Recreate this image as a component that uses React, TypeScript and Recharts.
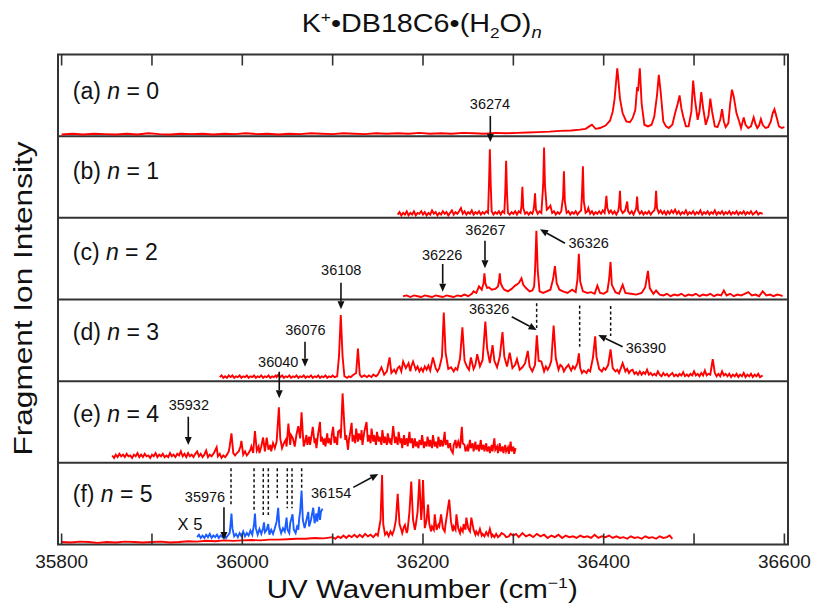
import { LineChart, Line, XAxis, YAxis, ReferenceLine, ReferenceArea, ReferenceDot } from "recharts";

// x range of the frame (slight padding around 35800..36600)
const X_MIN = 35796;
const X_MAX = 36604;
const xTicks = [35800, 35900, 36000, 36100, 36200, 36300, 36400, 36500, 36600];
const labeledTicks = [35800, 36000, 36200, 36400, 36600];

// panels: letter, n, vertical offset (each panel is 100 units tall), label height
const panelLetters = ["a", "b", "c", "d", "e", "f"];
const panelN = ["0", "1", "2", "3", "4", "5"];
const panelOffsets = [500, 400, 300, 200, 100, 0];
const panelLabelY = [545, 447.5, 348.4, 250.4, 150.3, 52.4];

// spectra: [wavenumber, intensity in % of panel height]
const specA = [
  [35800, 2], [35812, 3], [35824, 2], [35836, 3], [35848, 2.5], [35860, 2], [35872, 3], [35884, 2],
  [35896, 3.5], [35908, 2.5], [35920, 2], [35932, 3], [35944, 2.5], [35956, 3], [35968, 2], [35980, 3],
  [35992, 2.5], [36004, 3.5], [36016, 2.5], [36028, 3], [36040, 2], [36052, 3], [36064, 2.5], [36076, 3.5],
  [36088, 3], [36100, 2.5], [36112, 3.5], [36124, 3], [36136, 2.5], [36148, 3.5], [36160, 3], [36172, 3.5],
  [36184, 3], [36196, 4], [36208, 3], [36220, 3.5], [36232, 3], [36244, 4], [36256, 3.5], [36268, 3],
  [36280, 4], [36292, 3.5], [36304, 4], [36316, 4.5], [36328, 5], [36340, 5.5], [36352, 6.5], [36364, 7],
  [36374, 8], [36380, 9], [36384, 12], [36387, 14], [36391, 9], [36396, 10], [36402, 13], [36407, 19],
  [36410, 30], [36412, 45], [36414, 70], [36415, 83], [36416, 72], [36418, 46], [36421, 28], [36425, 18],
  [36429, 17], [36432, 22], [36435, 32], [36437, 60], [36438, 55], [36440, 83], [36442, 40], [36445, 14],
  [36449, 12], [36453, 14], [36456, 24], [36459, 50], [36461, 75], [36463, 55], [36466, 18], [36469, 12],
  [36472, 10], [36476, 14], [36479, 28], [36482, 40], [36484, 50], [36486, 34], [36488, 24], [36491, 12],
  [36494, 12], [36497, 30], [36499, 68], [36501, 45], [36504, 20], [36506, 30], [36508, 54], [36510, 35],
  [36513, 14], [36516, 25], [36518, 46], [36520, 30], [36523, 12], [36526, 11], [36529, 20], [36531, 33],
  [36533, 18], [36535, 11], [36538, 16], [36540, 40], [36542, 57], [36544, 48], [36547, 28], [36550, 18],
  [36552, 10], [36555, 23], [36557, 14], [36560, 10], [36563, 12], [36566, 23], [36568, 15], [36570, 10],
  [36572, 13], [36574, 21], [36576, 14], [36579, 10], [36582, 11], [36585, 18], [36587, 28], [36589, 33],
  [36591, 25], [36594, 12], [36597, 10], [36600, 11],
];

const specB = [
  [36172, 4], [36174, 7], [36176, 3], [36178, 6], [36180, 4], [36182, 8], [36184, 3], [36186, 6],
  [36188, 4], [36190, 8], [36192, 3], [36194, 6], [36196, 5], [36198, 8], [36200, 4], [36202, 7],
  [36204, 3], [36206, 6], [36208, 4], [36210, 9], [36212, 5], [36214, 7], [36216, 3], [36218, 6],
  [36220, 4], [36222, 8], [36224, 5], [36226, 7], [36228, 3], [36230, 6], [36232, 9], [36234, 4],
  [36236, 7], [36238, 5], [36240, 8], [36242, 12], [36244, 5], [36246, 8], [36248, 4], [36250, 7],
  [36252, 5], [36254, 9], [36256, 4], [36258, 7], [36260, 5], [36262, 8], [36264, 4], [36266, 7],
  [36268, 5], [36270, 8], [36272, 6], [36273, 40], [36274, 84], [36275, 40], [36276, 8], [36278, 4],
  [36280, 7], [36282, 5], [36284, 8], [36286, 4], [36288, 8], [36290, 6], [36291, 30], [36292, 70],
  [36293, 30], [36294, 6], [36296, 4], [36298, 7], [36300, 5], [36302, 8], [36304, 4], [36306, 8],
  [36308, 6], [36309, 15], [36310, 38], [36311, 12], [36313, 5], [36315, 7], [36317, 4], [36319, 7],
  [36321, 5], [36322, 8], [36323, 15], [36324, 30], [36325, 10], [36327, 5], [36329, 8], [36331, 6],
  [36333, 40], [36334, 86], [36335, 40], [36337, 10], [36339, 12], [36341, 15], [36343, 6], [36345, 8],
  [36347, 4], [36349, 7], [36351, 5], [36353, 8], [36355, 25], [36356, 57], [36357, 20], [36359, 6],
  [36361, 8], [36363, 4], [36365, 7], [36367, 5], [36369, 8], [36371, 4], [36373, 7], [36375, 9],
  [36376, 30], [36377, 63], [36378, 20], [36380, 6], [36382, 8], [36383, 12], [36385, 5], [36387, 8],
  [36389, 4], [36391, 7], [36393, 5], [36395, 8], [36397, 5], [36399, 9], [36401, 6], [36402, 15],
  [36403, 27], [36404, 12], [36406, 6], [36408, 9], [36410, 5], [36412, 8], [36414, 4], [36416, 8],
  [36417, 15], [36418, 33], [36419, 10], [36421, 6], [36423, 8], [36424, 10], [36426, 20], [36427, 8],
  [36429, 5], [36431, 8], [36433, 4], [36435, 9], [36436, 12], [36437, 26], [36438, 9], [36440, 5],
  [36442, 8], [36444, 4], [36446, 7], [36448, 5], [36450, 8], [36452, 4], [36454, 7], [36456, 9],
  [36457, 14], [36458, 33], [36459, 12], [36461, 6], [36463, 9], [36465, 5], [36467, 8], [36469, 4],
  [36471, 8], [36473, 5], [36475, 9], [36477, 6], [36479, 10], [36481, 5], [36483, 8], [36485, 4],
  [36487, 7], [36489, 5], [36491, 9], [36493, 4], [36495, 7], [36497, 5], [36499, 8], [36501, 4],
  [36503, 7], [36505, 5], [36507, 9], [36509, 4], [36511, 7], [36513, 5], [36515, 8], [36517, 4],
  [36519, 7], [36521, 5], [36523, 9], [36525, 4], [36527, 7], [36529, 5], [36531, 8], [36533, 4],
  [36535, 7], [36537, 5], [36539, 8], [36541, 4], [36543, 7], [36545, 5], [36547, 8], [36549, 4],
  [36551, 7], [36553, 5], [36555, 8], [36557, 4], [36559, 7], [36561, 5], [36563, 8], [36565, 4],
  [36567, 6], [36569, 8], [36571, 4], [36573, 6], [36576, 5],
];

const specC = [
  [36178, 4], [36182, 5], [36186, 3], [36190, 5], [36194, 4], [36198, 3], [36202, 5], [36206, 4],
  [36210, 3], [36214, 5], [36218, 4], [36222, 3], [36226, 5], [36230, 4], [36234, 3], [36238, 5],
  [36242, 4], [36246, 6], [36250, 4], [36254, 7], [36256, 10], [36259, 8], [36262, 16], [36265, 12],
  [36267, 20], [36268, 32], [36269, 20], [36271, 14], [36273, 15], [36276, 12], [36280, 13], [36283, 16],
  [36284, 22], [36285, 32], [36286, 20], [36288, 15], [36290, 12], [36294, 10], [36298, 13], [36302, 17],
  [36306, 20], [36309, 26], [36311, 18], [36314, 14], [36318, 10], [36321, 11], [36323, 16], [36324, 35],
  [36325.5, 84], [36327, 35], [36329, 10], [36333, 8], [36337, 10], [36341, 12], [36344, 25], [36346, 41],
  [36348, 20], [36351, 12], [36355, 10], [36360, 8], [36365, 12], [36369, 9], [36371, 25], [36372.5, 56],
  [36374, 22], [36377, 10], [36382, 8], [36386, 9], [36390, 7], [36393, 17], [36396, 8], [36400, 7],
  [36404, 10], [36406, 25], [36407.6, 46], [36409, 18], [36413, 9], [36417, 7], [36421, 18], [36424, 8],
  [36430, 7], [36436, 6], [36442, 8], [36446, 15], [36449, 35], [36451, 14], [36455, 7], [36458, 11],
  [36462, 6], [36466, 5], [36470, 7], [36474, 4], [36478, 6], [36482, 5], [36486, 7], [36490, 4],
  [36494, 6], [36498, 5], [36502, 7], [36506, 4], [36510, 6], [36514, 5], [36518, 7], [36522, 4],
  [36526, 6], [36530, 5], [36533, 11], [36536, 5], [36540, 7], [36544, 4], [36548, 6], [36552, 5],
  [36556, 7], [36560, 9], [36564, 5], [36568, 6], [36572, 4], [36576, 10], [36580, 5], [36584, 6],
  [36588, 4], [36592, 6], [36596, 5], [36598, 4],
];

const specD = [
  [35975, 5], [35977, 7], [35979, 4], [35981, 6], [35983, 4], [35985, 7], [35987, 5], [35989, 7],
  [35991, 4], [35993, 6], [35995, 5], [35997, 7], [35999, 4], [36001, 6], [36003, 5], [36005, 7],
  [36007, 4], [36009, 6], [36011, 5], [36013, 7], [36015, 4], [36017, 6], [36019, 5], [36021, 7],
  [36023, 4], [36025, 6], [36027, 5], [36029, 7], [36031, 4], [36033, 6], [36035, 5], [36037, 7],
  [36038, 5], [36040, 8], [36042, 5], [36044, 7], [36046, 4], [36048, 6], [36050, 5], [36052, 7],
  [36054, 4], [36056, 6], [36058, 5], [36060, 7], [36062, 4], [36064, 6], [36066, 5], [36068, 7],
  [36070, 4], [36072, 6], [36074, 5], [36076, 7], [36078, 4], [36080, 6], [36082, 5], [36084, 7],
  [36086, 4], [36088, 6], [36090, 5], [36092, 7], [36094, 4], [36096, 6], [36098, 5], [36100, 7],
  [36102, 5], [36105, 6], [36107, 30], [36109, 81], [36111, 30], [36113, 6], [36116, 4], [36118, 6],
  [36120, 5], [36122, 7], [36126, 10], [36128, 40], [36130, 8], [36132, 5], [36135, 7], [36138, 5],
  [36140, 7], [36143, 5], [36145, 8], [36148, 6], [36150, 8], [36154, 17], [36157, 8], [36160, 12],
  [36163, 29], [36165, 10], [36168, 14], [36170, 10], [36172, 16], [36174, 18], [36176, 12], [36178, 24],
  [36181, 16], [36184, 22], [36186, 12], [36187, 18], [36189, 24], [36192, 14], [36194, 18], [36196, 12],
  [36198, 16], [36200, 12], [36202, 18], [36204, 14], [36206, 19], [36208, 13], [36211, 29], [36214, 16],
  [36216, 12], [36218, 16], [36221, 30], [36223, 84], [36225, 35], [36228, 15], [36231, 17], [36234, 12],
  [36236, 16], [36238, 14], [36241, 28], [36243.6, 66], [36246, 25], [36249, 17], [36251, 14], [36253, 29],
  [36256, 15], [36258, 20], [36260, 33], [36263, 18], [36266, 26], [36269, 73], [36271, 40], [36274, 22],
  [36277, 44], [36279, 25], [36282, 17], [36285, 30], [36288, 60], [36290, 30], [36293, 18], [36296, 35],
  [36299, 16], [36302, 20], [36304, 27], [36307, 14], [36310, 17], [36313, 22], [36316, 37], [36318, 18],
  [36321, 12], [36324, 20], [36326, 56], [36328, 25], [36331, 24], [36334, 12], [36336, 18], [36338, 14],
  [36340, 18], [36342, 25], [36344.6, 68], [36347, 28], [36350, 14], [36352, 20], [36354, 18], [36356, 12],
  [36358, 16], [36361, 20], [36364, 13], [36366, 18], [36368, 15], [36371, 22], [36372.5, 34], [36374, 16],
  [36376, 10], [36378, 13], [36381, 10], [36383, 14], [36385, 12], [36388, 28], [36390.6, 55], [36392, 30],
  [36395, 15], [36398, 12], [36400, 16], [36402, 14], [36405, 20], [36407.6, 39], [36410, 16], [36413, 12],
  [36415, 14], [36417, 10], [36421, 22], [36424, 12], [36426, 15], [36428, 10], [36430, 13], [36432, 14],
  [36434, 9], [36436, 11], [36438, 8], [36440, 12], [36442, 8], [36444, 11], [36446, 9], [36448, 14],
  [36450, 8], [36452, 10], [36454, 7], [36456, 9], [36458, 7], [36460, 12], [36462, 8], [36464, 6],
  [36466, 10], [36468, 7], [36470, 9], [36472, 6], [36474, 8], [36476, 10], [36478, 6], [36480, 8],
  [36482, 6], [36484, 9], [36486, 7], [36488, 11], [36490, 6], [36492, 8], [36494, 6], [36496, 9],
  [36498, 7], [36500, 12], [36502, 7], [36504, 9], [36506, 6], [36508, 10], [36510, 7], [36512, 13],
  [36514, 7], [36516, 9], [36518, 8], [36520.7, 27], [36523, 10], [36525, 6], [36527, 9], [36529, 6],
  [36531, 12], [36533, 7], [36535, 9], [36537, 6], [36539, 9], [36541, 5], [36543, 8], [36545, 6],
  [36547, 9], [36549, 5], [36551, 8], [36553, 6], [36555, 10], [36557, 5], [36559, 8], [36561, 6],
  [36563, 9], [36565, 5], [36567, 8], [36569, 6], [36571, 9], [36573, 5], [36576, 7],
];

const specE = [
  [35856, 9], [35858, 6], [35860, 10], [35862, 7], [35864, 11], [35866, 8], [35868, 10], [35870, 7],
  [35872, 11], [35874, 8], [35876, 9], [35878, 6], [35880, 10], [35882, 8], [35884, 12], [35886, 7],
  [35888, 10], [35890, 7], [35892, 11], [35894, 8], [35896, 9], [35898, 6], [35900, 10], [35902, 8],
  [35904, 12], [35906, 7], [35908, 10], [35910, 8], [35912, 11], [35914, 7], [35916, 9], [35918, 7],
  [35920, 12], [35922, 8], [35924, 10], [35926, 7], [35928, 11], [35930, 9], [35932, 14], [35934, 8],
  [35936, 11], [35938, 7], [35940, 12], [35942, 8], [35944, 10], [35946, 7], [35948, 11], [35950, 14],
  [35952, 8], [35954, 11], [35956, 7], [35958, 10], [35960, 15], [35962, 7], [35964, 10], [35966, 8],
  [35968, 11], [35969, 13], [35971.6, 19], [35973, 8], [35975, 11], [35977, 6], [35979, 9], [35981, 7],
  [35983, 10], [35985, 14], [35986, 20], [35988, 36], [35990, 12], [35992, 9], [35994, 12], [35996, 14],
  [35998, 20], [35999, 27], [36001, 10], [36003, 14], [36005, 9], [36007, 12], [36009, 16], [36010, 20],
  [36012, 12], [36014, 39], [36016, 15], [36018, 20], [36019, 12], [36021, 20], [36023, 31], [36025, 14],
  [36027, 31], [36029, 16], [36031, 22], [36032, 14], [36034, 24], [36036, 18], [36038, 26], [36040.5, 68],
  [36042, 30], [36044, 18], [36046, 24], [36048, 28], [36049, 20], [36051, 48], [36053, 22], [36054, 34],
  [36056, 30], [36058, 20], [36060, 35], [36062, 45], [36064, 30], [36065.6, 62], [36067, 35], [36068, 20],
  [36069, 24], [36071, 34], [36072, 22], [36074, 32], [36075, 22], [36077, 36], [36078, 44], [36080, 24],
  [36081, 30], [36082, 18], [36084, 36], [36086, 50], [36087, 26], [36088, 32], [36090, 22], [36091, 30],
  [36092, 20], [36094, 36], [36095, 24], [36096, 30], [36098, 22], [36099, 34], [36100.5, 44], [36102, 24],
  [36103, 32], [36105, 22], [36106, 38], [36108, 40], [36109, 30], [36111, 85], [36113, 45], [36114, 28],
  [36115, 34], [36117, 16], [36118, 28], [36119, 34], [36121, 49], [36122, 26], [36123, 34], [36125, 24],
  [36126, 42], [36128, 26], [36129, 36], [36131, 28], [36132, 40], [36133, 22], [36135, 38], [36137.5, 50],
  [36139, 26], [36140, 34], [36142, 24], [36143, 42], [36145, 26], [36146, 34], [36148, 22], [36149, 38],
  [36151, 26], [36152, 32], [36154, 22], [36155, 40], [36157, 24], [36158, 32], [36160, 22], [36161, 36],
  [36163, 24], [36164, 30], [36165, 22], [36167, 45], [36169, 24], [36170, 32], [36172, 22], [36173, 38],
  [36175, 24], [36176, 30], [36177, 18], [36179, 34], [36180, 22], [36182, 30], [36183, 20], [36185, 38],
  [36186, 24], [36188, 30], [36189, 18], [36191, 30], [36192, 20], [36193, 26], [36195, 18], [36196, 28],
  [36198, 22], [36199, 34], [36201, 18], [36202, 26], [36204, 20], [36205, 32], [36207, 20], [36208, 28],
  [36210, 18], [36211, 34], [36213, 20], [36214, 26], [36216, 18], [36217, 32], [36219, 20], [36220, 28],
  [36222, 20], [36224, 38], [36225, 22], [36227, 28], [36228, 18], [36230, 24], [36231, 16], [36233, 12],
  [36234, 22], [36236, 28], [36237, 18], [36239, 26], [36241, 18], [36243, 44], [36244, 24], [36246, 22],
  [36247, 14], [36249, 20], [36250, 14], [36252, 28], [36253, 18], [36255, 24], [36256, 14], [36258, 26],
  [36259, 16], [36261, 22], [36262, 14], [36264, 28], [36265, 16], [36267, 22], [36268, 14], [36270, 24],
  [36271, 14], [36273, 20], [36274, 12], [36276, 22], [36277, 14], [36279, 30], [36280, 16], [36282, 20],
  [36283, 12], [36285, 24], [36286, 14], [36288, 20], [36289, 12], [36291, 22], [36292, 14], [36294, 19],
  [36295, 11], [36297, 26], [36298, 14], [36300, 20], [36301, 11], [36302.5, 18],
];

const specF = [
  [35800, 3], [35810, 2.5], [35820, 3.5], [35830, 3], [35840, 2], [35850, 3], [35860, 2.5], [35870, 3.5],
  [35880, 3], [35890, 2.5], [35900, 3], [35910, 3.5], [35920, 2.5], [35930, 3], [35940, 4], [35950, 3.5],
  [35960, 4.5], [35970, 4], [35980, 5], [35990, 4.5], [36000, 5], [36010, 5.5], [36020, 5], [36030, 6],
  [36040, 6], [36050, 6.5], [36060, 7], [36070, 7], [36080, 8], [36090, 7.5], [36100, 9], [36103, 7],
  [36106, 10], [36109, 8], [36112, 11], [36115, 8], [36118, 11], [36121, 9], [36124, 12], [36127, 9],
  [36130, 12], [36133, 9], [36136, 13], [36139, 10], [36142, 12], [36145, 9], [36148, 13], [36150, 11],
  [36153, 30], [36154.7, 85], [36156, 25], [36158, 12], [36160, 15], [36162, 10], [36164, 16], [36166, 12],
  [36168, 18], [36170, 30], [36172, 62], [36174, 25], [36176, 18], [36177, 14], [36179, 22], [36180, 24],
  [36182, 14], [36183, 18], [36185, 40], [36187, 77], [36189, 30], [36191, 18], [36192, 24], [36194, 40],
  [36196, 80], [36198, 30], [36199, 45], [36200, 79], [36202, 20], [36204, 30], [36205.6, 49], [36207, 25],
  [36209, 16], [36210, 22], [36212, 18], [36213, 37], [36215, 18], [36217, 24], [36218, 22], [36220, 37],
  [36222, 20], [36224, 16], [36225, 25], [36227, 40], [36229, 55], [36231, 28], [36233, 16], [36234, 22],
  [36236, 18], [36237, 37], [36239, 20], [36241, 14], [36242, 20], [36244, 16], [36245, 25], [36247, 18],
  [36248, 33], [36250, 20], [36252, 16], [36253.5, 33], [36256, 18], [36258, 12], [36259, 16], [36261, 12],
  [36263, 19], [36265, 11], [36266, 13], [36268, 10], [36270, 15], [36272, 11], [36274, 19], [36276, 10],
  [36277, 12], [36279, 9], [36281, 13], [36283, 9], [36285, 11], [36287, 14], [36290, 12], [36292, 9],
  [36295, 10], [36297, 13], [36300, 11], [36303, 13], [36306, 9], [36310, 14], [36314, 10], [36318, 12],
  [36322, 9], [36326, 13], [36330, 10], [36334, 12], [36338, 8], [36342, 11], [36346, 9], [36350, 12],
  [36354, 8], [36358, 11], [36362, 9], [36366, 10], [36370, 8], [36374, 11], [36378, 9], [36382, 10],
  [36386, 8], [36390, 12], [36394, 8], [36398, 10], [36402, 9], [36406, 11], [36410, 8], [36414, 10],
  [36418, 8], [36422, 9], [36426, 7], [36430, 10], [36434, 8], [36438, 9], [36442, 7], [36446, 10],
  [36450, 8], [36454, 9], [36458, 7], [36462, 10], [36466, 8], [36470, 9], [36473, 11], [36476, 7],
];

// n = 5 low-frequency region, magnified x5
const specFx5 = [
  [35950, 9], [35952, 12], [35954, 8], [35956, 11], [35958, 8], [35960, 12], [35962, 9], [35964, 13],
  [35966, 8], [35968, 11], [35970, 9], [35972, 12], [35974, 8], [35976, 11], [35978, 9], [35980, 12],
  [35982, 8], [35984, 11], [35986, 14], [35987, 25], [35988, 38], [35989, 20], [35991, 10], [35993, 13],
  [35995, 9], [35997, 14], [35999, 10], [36001, 16], [36003, 10], [36005, 14], [36007, 11], [36009, 17],
  [36011, 12], [36013, 25], [36014, 38], [36015, 20], [36017, 12], [36019, 19], [36021, 13], [36023, 20],
  [36024, 27], [36025, 15], [36027, 18], [36028.7, 25], [36030, 12], [36032, 18], [36034, 13], [36036, 20],
  [36038, 28], [36039.7, 45], [36041, 22], [36043, 14], [36045, 20], [36047, 16], [36049, 33], [36050, 18],
  [36052, 14], [36053, 26], [36055.6, 37], [36057, 18], [36059, 14], [36061, 24], [36062, 18], [36063, 32],
  [36064, 40], [36065.6, 66], [36067, 30], [36069, 20], [36071, 30], [36073, 40], [36074, 22], [36076, 30],
  [36078.5, 45], [36080, 26], [36082, 38], [36083, 28], [36085, 46], [36086, 30], [36087, 40], [36088.8, 44],
];

// annotations (wavenumber, chart y units)
const peakLabels = [
  { text: "36274", x: 36274.2, y: 533 },
  { text: "36326", x: 36383.4, y: 362.7 },
  { text: "36267", x: 36269.2, y: 379 },
  { text: "36226", x: 36221.2, y: 348.4 },
  { text: "36108", x: 36109.5, y: 330 },
  { text: "36076", x: 36069.9, y: 256.5 },
  { text: "36040", x: 36039.8, y: 217.7 },
  { text: "36326", x: 36273.3, y: 282.2 },
  { text: "36390", x: 36446.6, y: 234.1 },
  { text: "35932", x: 35940.8, y: 164.7 },
  { text: "35976", x: 35958.7, y: 52.4 },
  { text: "36154", x: 36098.4, y: 56.6 },
];

const arrows = [
  [36274.5, 524.8, 36274.5, 492.9],
  [36357.2, 368.8, 36329.5, 386.0],
  [36268.6, 372.0, 36268.6, 338.2],
  [36221.8, 343.5, 36221.8, 309.6],
  [36109.2, 320.6, 36109.2, 288.0],
  [36069.4, 248.3, 36069.4, 217.7],
  [36040.9, 211.6, 36040.9, 179.0],
  [36298.2, 278.9, 36325.8, 262.7],
  [36421.0, 242.2, 36394.0, 256.5],
  [35940.2, 156.5, 35940.2, 121.8],
  [35979.7, 45.6, 35979.7, 5.5],
  [36122.9, 70.0, 36150.5, 86.3],
];

const dashMarks = [
  [36325.8, 295.3, 265.1],
  [36373.4, 292.6, 242.2],
  [36407.7, 292.0, 255.3],
  [35987.5, 93.3, 46.3],
  [36013, 93.3, 42.2],
  [36023.2, 93.3, 36.1],
  [36028.8, 93.3, 36.1],
  [36038.7, 93.3, 56.6],
  [36049.8, 93.3, 44.3],
  [36055, 93.3, 44.3],
  [36065.7, 93.3, 68.8],
];

const FONT = "'Liberation Sans', Arial, sans-serif";
const INK = "#111";
const RED = "#ff0000";
const BLUE = "#1a5cff";

const series = [
  { data: specA, panel: 0, color: RED },
  { data: specB, panel: 1, color: RED },
  { data: specC, panel: 2, color: RED },
  { data: specD, panel: 3, color: RED },
  { data: specE, panel: 4, color: RED },
  { data: specF, panel: 5, color: RED },
  { data: specFx5, panel: 5, color: BLUE },
].map((s) => ({
  ...s,
  rows: s.data.map(([x, y]) => ({ x, y: y + panelOffsets[s.panel] })),
}));

function Arrow(p: any) {
  const { x1, y1, x2, y2 } = p;
  const dx = x2 - x1;
  const dy = y2 - y1;
  const len = Math.hypot(dx, dy) || 1;
  const ux = dx / len;
  const uy = dy / len;
  const hl = 8;
  const hw = 3.5;
  const bx = x2 - ux * hl;
  const by = y2 - uy * hl;
  return (
    <g>
      <line x1={x1} y1={y1} x2={bx} y2={by} stroke={INK} strokeWidth={1.6} />
      <polygon
        points={`${x2},${y2} ${bx - uy * hw},${by + ux * hw} ${bx + uy * hw},${by - ux * hw}`}
        fill={INK}
      />
    </g>
  );
}

const tickLineStyle = { stroke: "#333", strokeWidth: 1.6 };

export default function App() {
  return (
    <div style={{ position: "absolute", left: 0, top: 0, width: 814, height: 608, background: "#fff", fontFamily: FONT }}>
      <LineChart width={814} height={608} margin={{ top: 24.5, right: 26, bottom: 0, left: 58 }}>
        <XAxis
          type="number"
          dataKey="x"
          domain={[X_MIN, X_MAX]}
          allowDataOverflow
          ticks={xTicks}
          interval={0}
          tickFormatter={(v: number) => (labeledTicks.includes(v) ? String(v) : "")}
          tickSize={-11}
          tickMargin={21}
          height={63.5}
          axisLine={false}
          tickLine={tickLineStyle}
          tick={{ fontSize: 19, fill: "#1a1a1a", fontFamily: FONT }}
        />
        <XAxis
          xAxisId="top"
          orientation="top"
          type="number"
          dataKey="x"
          domain={[X_MIN, X_MAX]}
          allowDataOverflow
          ticks={xTicks}
          interval={0}
          tickFormatter={() => ""}
          tickSize={-11}
          height={30}
          axisLine={false}
          tickLine={tickLineStyle}
        />
        <YAxis type="number" domain={[0, 600]} allowDataOverflow hide width={0} />

        <ReferenceArea x1={X_MIN} x2={X_MAX} y1={0} y2={600} fill="none" stroke="#333" strokeWidth={2} ifOverflow="visible" />
        {panelOffsets.filter((o) => o > 0).map((o) => (
          <ReferenceLine key={`sep${o}`} y={o} stroke="#333" strokeWidth={2} />
        ))}

        {series.map((s, i) => (
          <Line
            key={`s${i}`}
            data={s.rows}
            dataKey="y"
            type="linear"
            stroke={s.color}
            strokeWidth={1.9}
            dot={false}
            activeDot={false}
            isAnimationActive={false}
          />
        ))}

        {dashMarks.map(([x, y1, y2], i) => (
          <ReferenceLine
            key={`d${i}`}
            segment={[{ x, y: y1 }, { x, y: y2 }]}
            stroke={INK}
            strokeWidth={1.5}
            strokeDasharray="3 2.5"
            ifOverflow="visible"
          />
        ))}

        {arrows.map(([x1, y1, x2, y2], i) => (
          <ReferenceLine
            key={`a${i}`}
            segment={[{ x: x1, y: y1 }, { x: x2, y: y2 }]}
            shape={Arrow}
            ifOverflow="visible"
          />
        ))}

        {peakLabels.map((l, i) => (
          <ReferenceDot
            key={`l${i}`}
            x={l.x}
            y={l.y}
            r={1}
            ifOverflow="visible"
            shape={(p: any) => (
              <text x={p.cx} y={p.cy} textAnchor="middle" fontSize={14.5} fill={INK} fontFamily={FONT}>
                {l.text}
              </text>
            )}
          />
        ))}

        <ReferenceDot
          x={35942.1}
          y={17.8}
          r={1}
          ifOverflow="visible"
          shape={(p: any) => (
            <text x={p.cx} y={p.cy} textAnchor="middle" fontSize={16.5} fill={INK} fontFamily={FONT}>
              X 5
            </text>
          )}
        />

        {panelLetters.map((l, i) => (
          <ReferenceDot
            key={`p${l}`}
            x={35812.3}
            y={panelLabelY[i]}
            r={1}
            ifOverflow="visible"
            shape={(p: any) => (
              <text x={p.cx} y={p.cy} fontSize={23} fill={INK} fontFamily={FONT}>
                {`(${l}) `}
                <tspan fontStyle="italic">n</tspan>
                {` = ${panelN[i]}`}
              </text>
            )}
          />
        ))}
      </LineChart>

      <svg
        width={814}
        height={608}
        style={{ position: "absolute", left: 0, top: 0, pointerEvents: "none" }}
        fontFamily={FONT}
        fill={INK}
      >
        <text x={421.7} y={31.5} textAnchor="middle" fontSize={25} textLength={240} lengthAdjust="spacingAndGlyphs">
          K<tspan fontSize={15} dy={-10}>+</tspan>
          <tspan dy={10}>•DB18C6•(H</tspan>
          <tspan fontSize={15} dy={6}>2</tspan>
          <tspan dy={-6}>O)</tspan>
          <tspan fontSize={16} dy={6} fontStyle="italic">n</tspan>
        </text>
        <text x={422.3} y={598} textAnchor="middle" fontSize={25} textLength={311} lengthAdjust="spacingAndGlyphs">
          UV Wavenumber (cm<tspan fontSize={15} dy={-10}>−1</tspan>
          <tspan dy={10}>)</tspan>
        </text>
        <text
          transform="translate(31.5,298.5) rotate(-90)"
          textAnchor="middle"
          fontSize={26.5}
          textLength={314}
          lengthAdjust="spacingAndGlyphs"
        >
          Fragment Ion Intensity
        </text>
      </svg>
    </div>
  );
}
